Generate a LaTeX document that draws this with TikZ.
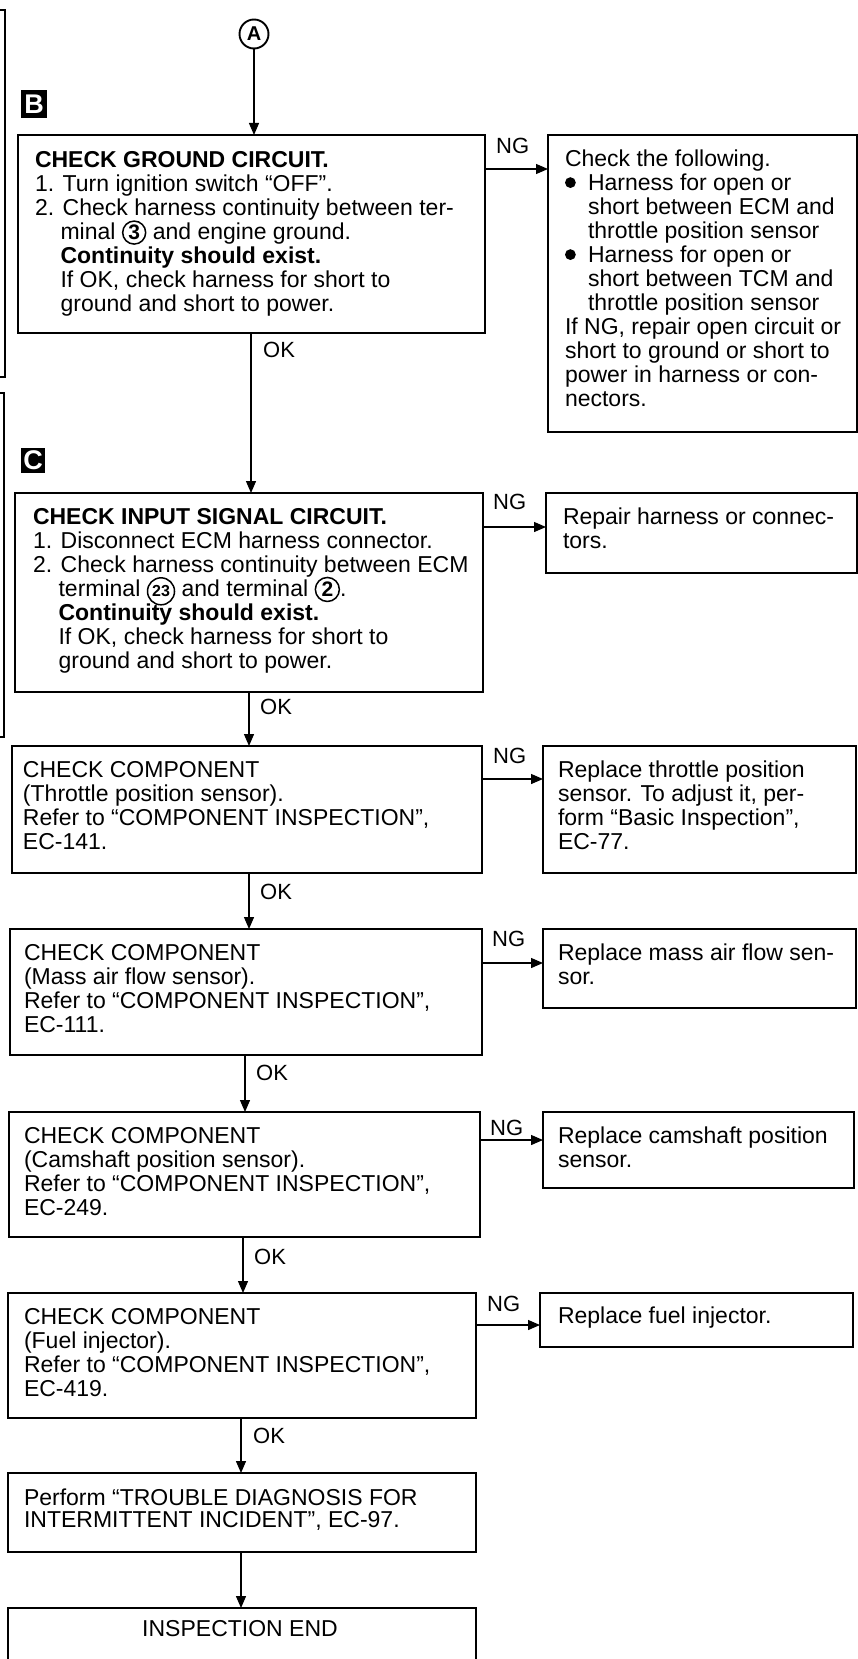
\documentclass[tikz,border=0pt]{standalone}
\usepackage{fontspec}
\setmainfont{Liberation Sans}
\usetikzlibrary{arrows.meta,calc}
\newcommand{\hng}{\hphantom{2.\ }}
\newcommand{\bhng}{\hspace*{23pt}}
\newcommand{\bul}{\makebox[23pt][l]{\tikz[baseline=0pt]\fill (5.4pt,8.2pt) circle (5.4pt);}}
\newcommand{\cnum}[3][\fontsize{21}{21}\selectfont]{\tikz[baseline=(cn.base)]\node[draw,circle,line width=1.5pt,inner sep=0pt,minimum size=#2,font=\bfseries#1] (cn) {#3};}
\newcommand{\txtfont}{\fontsize{23}{24}\selectfont\lineskiplimit=-30pt\relax}
\newcommand{\txtfontb}{\fontsize{23}{22}\selectfont\lineskiplimit=-30pt\relax}
\begin{document}
\begin{tikzpicture}[x=1pt,y=-1pt,
  box/.style={draw,line width=1.6pt,anchor=north west,inner sep=0pt,outer sep=0pt},
  txt/.style={anchor=north west,inner sep=0pt,outer sep=0pt,align=left,font=\txtfont},
  arr/.style={line width=1.3pt,-{Triangle[length=12pt,width=10pt]}},
  lbl/.style={anchor=north west,inner sep=0pt,font=\fontsize{22}{22}\selectfont},
  marker/.style={anchor=north west,fill=black,text=white,inner sep=0pt,font=\fontsize{27}{27}\selectfont\bfseries},
  bracket/.style={line width=1.5pt}]
\useasboundingbox (0,0) rectangle (858,1659);
\fill[white] (0,0) rectangle (858,1659);
\clip (0,0) rectangle (858,1659);

% side brackets
\draw[bracket] (0,10) -- (5,10) -- (5,377) -- (0,377);
\draw[bracket] (0,393) -- (4,393) -- (4,737) -- (0,737);

% connector A
\node[circle,draw,line width=1.9pt,minimum size=29pt,inner sep=0pt,font=\bfseries\fontsize{20}{20}\selectfont] (A) at (254,34) {A};

% markers
\node[marker,minimum width=26pt,minimum height=28pt] (mB) at (21,90) {B};
\node[marker,minimum width=24pt,minimum height=25pt] (mC) at (21,448) {C};

% boxes
\node[box,minimum width=467pt,minimum height=198pt] (b1) at (18,135) {};
\node[box,minimum width=309pt,minimum height=297pt] (r1) at (548,135) {};
\node[box,minimum width=468pt,minimum height=199pt] (b2) at (15,493) {};
\node[box,minimum width=311pt,minimum height=80pt] (r2) at (546,493) {};
\node[box,minimum width=470pt,minimum height=127pt] (b3) at (12,746) {};
\node[box,minimum width=313pt,minimum height=127pt] (r3) at (543,746) {};
\node[box,minimum width=472pt,minimum height=126pt] (b4) at (10,929) {};
\node[box,minimum width=313pt,minimum height=79pt] (r4) at (543,929) {};
\node[box,minimum width=471pt,minimum height=125pt] (b5) at (9,1112) {};
\node[box,minimum width=311pt,minimum height=76pt] (r5) at (543,1112) {};
\node[box,minimum width=468pt,minimum height=125pt] (b6) at (8,1293) {};
\node[box,minimum width=313pt,minimum height=54pt] (r6) at (540,1293) {};
\node[box,minimum width=468pt,minimum height=79pt] (b7) at (8,1473) {};
\node[box,minimum width=468pt,minimum height=80pt] (b8) at (8,1608) {};

% texts
\node[txt] (b1t) at ($(b1.north west)+(17,16)$) {\strut\textbf{CHECK GROUND CIRCUIT.}\\
1. Turn ignition switch “OFF”.\\
2. Check harness continuity between ter-\\
\hng minal \cnum{23pt}{3} and engine ground.\\
\hng\textbf{Continuity should exist.}\\
\hng If OK, check harness for short to\\
\hng ground and short to power.};

\node[txt] (r1t) at ($(r1.north west)+(17,15)$) {\strut Check the following.\\
\bul Harness for open or\\
\bhng short between ECM and\\
\bhng throttle position sensor\\
\bul Harness for open or\\
\bhng short between TCM and\\
\bhng throttle position sensor\\
If NG, repair open circuit or\\
short to ground or short to\\
power in harness or con-\\
nectors.};

\node[txt] (b2t) at ($(b2.north west)+(18,15)$) {\strut\textbf{CHECK INPUT SIGNAL CIRCUIT.}\\
1. Disconnect ECM harness connector.\\
2. Check harness continuity between ECM\\
\hng terminal \cnum[\fontsize{16}{16}\selectfont]{27pt}{23} and terminal \cnum{24pt}{2}.\\
\hng\textbf{Continuity should exist.}\\
\hng If OK, check harness for short to\\
\hng ground and short to power.};

\node[txt] (r2t) at ($(r2.north west)+(17,15)$) {\strut Repair harness or connec-\\tors.};

\node[txt] (b3t) at ($(b3.north west)+(11,15)$) {\strut CHECK COMPONENT\\
(Throttle position sensor).\\
Refer to “COMPONENT INSPECTION”,\\
EC-141.};
\node[txt] (r3t) at ($(r3.north west)+(15,15)$) {\strut Replace throttle position\\
sensor. To adjust it, per-\\
form “Basic Inspection”,\\
EC-77.};

\node[txt] (b4t) at ($(b4.north west)+(14,15)$) {\strut CHECK COMPONENT\\
(Mass air flow sensor).\\
Refer to “COMPONENT INSPECTION”,\\
EC-111.};
\node[txt] (r4t) at ($(r4.north west)+(15,15)$) {\strut Replace mass air flow sen-\\sor.};

\node[txt] (b5t) at ($(b5.north west)+(15,15)$) {\strut CHECK COMPONENT\\
(Camshaft position sensor).\\
Refer to “COMPONENT INSPECTION”,\\
EC-249.};
\node[txt] (r5t) at ($(r5.north west)+(15,15)$) {\strut Replace camshaft position\\sensor.};

\node[txt] (b6t) at ($(b6.north west)+(16,15)$) {\strut CHECK COMPONENT\\
(Fuel injector).\\
Refer to “COMPONENT INSPECTION”,\\
EC-419.};
\node[txt] (r6t) at ($(r6.north west)+(18,14)$) {\strut Replace fuel injector.};

\node[txt,font=\txtfontb] (b7t) at ($(b7.north west)+(16,16)$) {\strut Perform “TROUBLE DIAGNOSIS FOR\\
INTERMITTENT INCIDENT”, EC-97.};

\node[txt,anchor=north] (b8t) at ($(b8.north)+(-2,12)$) {\strut INSPECTION END};

% main column x positions
\coordinate (k1) at (251,0);
\coordinate (k2) at (249,0);
\coordinate (k3) at (249,0);
\coordinate (k4) at (245,0);
\coordinate (k5) at (243,0);
\coordinate (k6) at (241,0);
\coordinate (k7) at (241,0);

% vertical connectors
\draw[arr] (A) -- (A |- b1.north);
\draw[arr] (b1.south -| k1) -- (b2.north -| k1);
\draw[arr] (b2.south -| k2) -- (b3.north -| k2);
\draw[arr] (b3.south -| k3) -- (b4.north -| k3);
\draw[arr] (b4.south -| k4) -- (b5.north -| k4);
\draw[arr] (b5.south -| k5) -- (b6.north -| k5);
\draw[arr] (b6.south -| k6) -- (b7.north -| k6);
\draw[arr] (b7.south -| k7) -- (b8.north -| k7);

% OK labels
\node[lbl] (ok1) at ($(b1.south -| k1)+(12,9)$) {OK};
\node[lbl] (ok2) at ($(b2.south -| k2)+(11,7)$) {OK};
\node[lbl] (ok3) at ($(b3.south -| k3)+(11,11)$) {OK};
\node[lbl] (ok4) at ($(b4.south -| k4)+(11,10)$) {OK};
\node[lbl] (ok5) at ($(b5.south -| k5)+(11,12)$) {OK};
\node[lbl] (ok6) at ($(b6.south -| k6)+(12,10)$) {OK};

% NG connectors
\coordinate (n1) at (0,169);
\coordinate (n2) at (0,527);
\coordinate (n3) at (0,779);
\coordinate (n4) at (0,963);
\coordinate (n5) at (0,1140);
\coordinate (n6) at (0,1325);
\draw[arr] (b1.east |- n1) -- (r1.west |- n1);
\draw[arr] (b2.east |- n2) -- (r2.west |- n2);
\draw[arr] (b3.east |- n3) -- (r3.west |- n3);
\draw[arr] (b4.east |- n4) -- (r4.west |- n4);
\draw[arr] (b5.east |- n5) -- (r5.west |- n5);
\draw[arr] (b6.east |- n6) -- (r6.west |- n6);

% NG labels
\node[lbl] (ng1) at ($(b1.north east)+(11,3)$) {NG};
\node[lbl] (ng2) at ($(b2.north east)+(10,1)$) {NG};
\node[lbl] (ng3) at ($(b3.north east)+(11,2)$) {NG};
\node[lbl] (ng4) at ($(b4.north east)+(10,2)$) {NG};
\node[lbl] (ng5) at ($(b5.north east)+(10,8)$) {NG};
\node[lbl] (ng6) at ($(b6.north east)+(11,3)$) {NG};
\end{tikzpicture}
\end{document}
